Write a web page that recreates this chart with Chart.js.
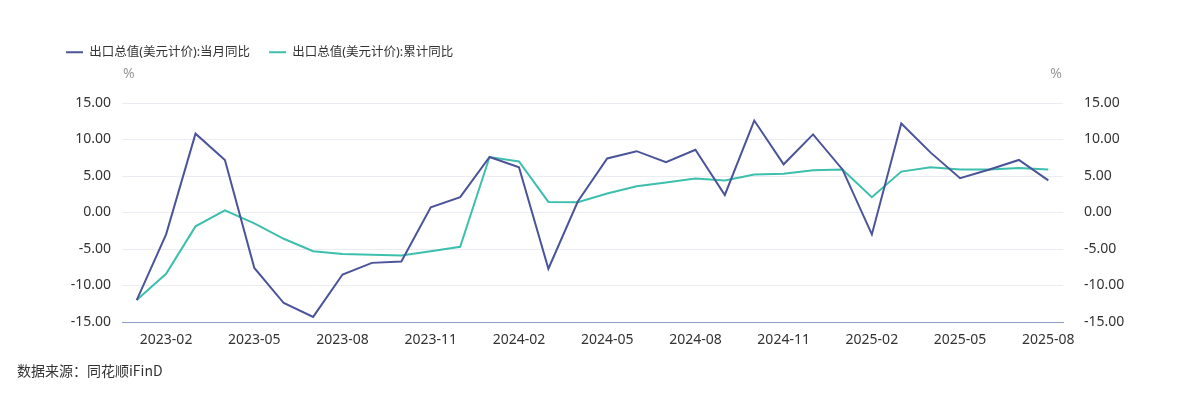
<!DOCTYPE html>
<html>
<head>
<meta charset="utf-8">
<script src="https://cdn.jsdelivr.net/npm/chart.js@4"></script>
<style>
  html, body { margin: 0; padding: 0; background: #fff; }
  #wrap { position: relative; width: 1184px; height: 398px; }
  #footer {
    position: absolute; left: 17px; top: 360px;
    font: 14px "Noto Sans CJK SC", "Noto Sans", sans-serif; color: #333;
  }
</style>
</head>
<body>
<div id="wrap">
  <canvas id="exportChart" width="1184" height="398"></canvas>
  <div id="footer">数据来源：同花顺iFinD</div>
</div>
<script>
// months 2023-01 .. 2025-08
const months = [
  '2023-01', '2023-02', '2023-03', '2023-04', '2023-05', '2023-06', '2023-07', '2023-08',
  '2023-09', '2023-10', '2023-11', '2023-12', '2024-01', '2024-02', '2024-03', '2024-04',
  '2024-05', '2024-06', '2024-07', '2024-08', '2024-09', '2024-10', '2024-11', '2024-12',
  '2025-01', '2025-02', '2025-03', '2025-04', '2025-05', '2025-06', '2025-07', '2025-08'
];

// 当月同比 (%)
const monthlyYoy = [
  -12.0, -3.0, 10.8, 7.2, -7.6, -12.4, -14.3, -8.5,
  -6.9, -6.7, 0.7, 2.1, 7.6, 6.2, -7.7, 1.5,
  7.4, 8.4, 6.9, 8.6, 2.4, 12.6, 6.6, 10.7,
  5.9, -3.0, 12.2, 8.2, 4.7, 5.9, 7.2, 4.4
];

// 累计同比 (%)
const cumulativeYoy = [
  -12.0, -8.4, -1.9, 0.3, -1.5, -3.6, -5.3, -5.7,
  -5.8, -5.9, -5.3, -4.7, 7.6, 7.0, 1.45, 1.4,
  2.6, 3.6, 4.1, 4.65, 4.4, 5.2, 5.3, 5.8,
  5.9, 2.1, 5.6, 6.2, 5.9, 5.9, 6.1, 5.9
];

const seriesNames = ['出口总值(美元计价):当月同比', '出口总值(美元计价):累计同比'];
const seriesColors = ['#4b5499', '#3dbfad'];

const yMin = -15, yMax = 15, yStep = 5;

const fontFamily = '"Noto Sans", "Noto Sans CJK SC", sans-serif';

// fixed legend height so the plot starts where the reference does
const legendSizer = {
  id: 'legendSizer',
  beforeLayout(chart) {
    const legend = chart.legend;
    if (legend && !legend._patched) {
      const fit = legend.fit.bind(legend);
      legend.fit = function () {
        fit();
        this.height = 76;
      };
      legend._patched = true;
    }
  }
};

// "%" unit labels above both axes
const unitLabels = {
  id: 'unitLabels',
  afterDraw(chart) {
    const ctx = chart.ctx;
    const area = chart.chartArea;
    ctx.save();
    ctx.font = '14px ' + fontFamily;
    ctx.fillStyle = '#999';
    ctx.textBaseline = 'middle';
    ctx.textAlign = 'left';
    ctx.fillText('%', area.left + 1, 74);
    ctx.textAlign = 'right';
    ctx.fillText('%', area.right - 1, 74);
    ctx.restore();
  }
};

function fmt(v) { return Number(v).toFixed(2); }

new Chart(document.getElementById('exportChart'), {
  type: 'line',
  data: {
    labels: months,
    datasets: [
      {
        label: seriesNames[0], data: monthlyYoy, yAxisID: 'y',
        borderColor: seriesColors[0], backgroundColor: seriesColors[0],
        borderWidth: 2, pointRadius: 0, tension: 0
      },
      {
        label: seriesNames[1], data: cumulativeYoy, yAxisID: 'y',
        borderColor: seriesColors[1], backgroundColor: seriesColors[1],
        borderWidth: 2, pointRadius: 0, tension: 0
      }
    ]
  },
  options: {
    responsive: false,
    animation: false,
    layout: { padding: { left: 47, right: 46, top: 27, bottom: 46 } },
    plugins: {
      legend: {
        display: true, position: 'top', align: 'start',
        labels: {
          usePointStyle: true, pointStyle: 'line', pointStyleWidth: 17,
          padding: 19, color: '#333',
          font: { size: 12.5, family: fontFamily }
        }
      },
      tooltip: { enabled: false }
    },
    scales: {
      x: {
        offset: true,
        grid: { display: false },
        border: { display: true, color: '#8e9cc4', width: 1 },
        ticks: {
          autoSkip: false, maxRotation: 0, color: '#333', padding: 2,
          font: { size: 14, family: fontFamily },
          callback: function (val, i) { return (i - 1) % 3 === 0 ? months[i] : ''; }
        },
        afterFit: function (scale) { scale.height = 30; }
      },
      y: {
        position: 'left', min: yMin, max: yMax,
        grid: { color: '#ebebf3', drawTicks: false },
        border: { display: false },
        ticks: {
          stepSize: yStep, color: '#333', padding: 11,
          font: { size: 14, family: fontFamily },
          callback: fmt
        },
        afterFit: function (scale) { scale.width = 75; }
      },
      y2: {
        position: 'right', min: yMin, max: yMax,
        grid: { display: false },
        border: { display: false },
        ticks: {
          stepSize: yStep, color: '#333', padding: 13,
          font: { size: 14, family: fontFamily },
          callback: fmt
        },
        afterFit: function (scale) { scale.width = 75; }
      }
    }
  },
  plugins: [legendSizer, unitLabels]
});
</script>
</body>
</html>
